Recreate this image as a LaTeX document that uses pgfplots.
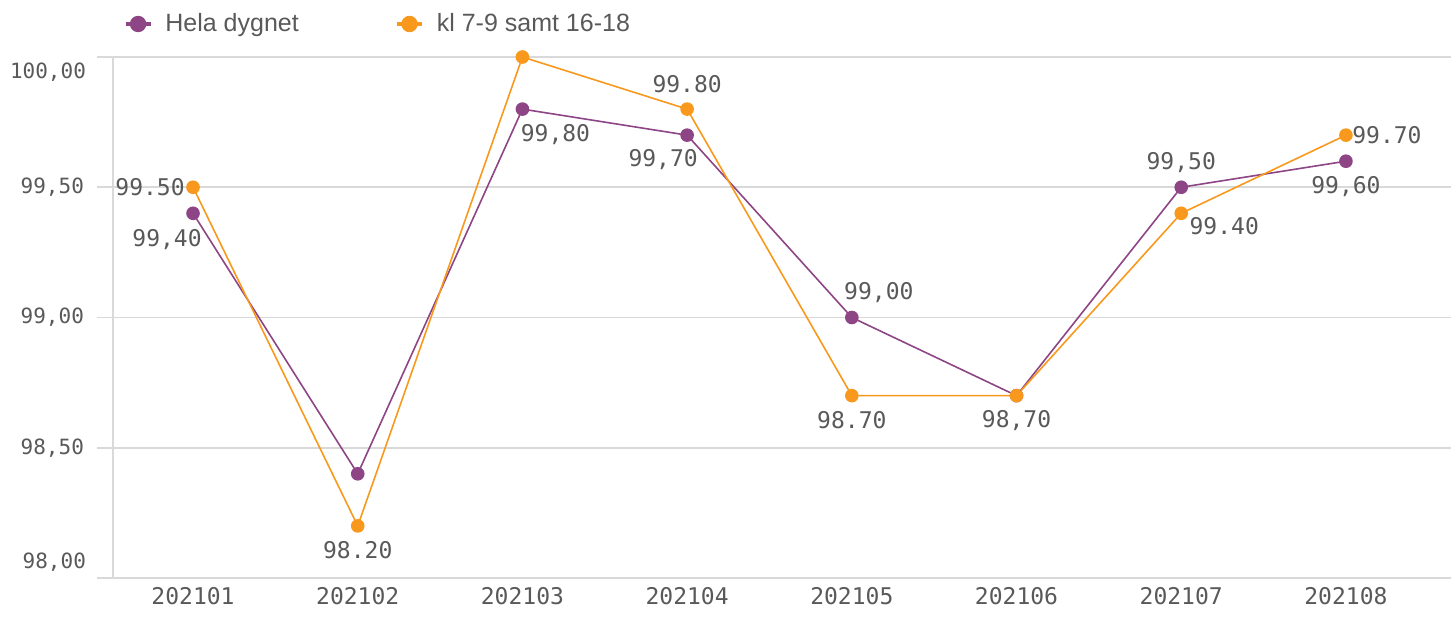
\documentclass[border=0pt]{standalone}
\usepackage{pgfplots}
\pgfplotsset{compat=1.18}
\usepackage{fontspec}
\setmainfont{Liberation Sans}
\setmonofont{DejaVu Sans Mono}
\definecolor{cpurple}{HTML}{8E4585}
\definecolor{corange}{HTML}{F8991D}
\definecolor{ctext}{HTML}{595959}
\definecolor{cgrid}{HTML}{D9D9D9}
\begin{document}
\begin{tikzpicture}
\begin{axis}[
  scale only axis,
  width=669pt, height=260.5pt,
  xmin=-0.486, xmax=7.638,
  ymin=98, ymax=100,
  clip=false,
  axis x line*=bottom, axis y line*=left,
  axis line style={draw=cgrid, line width=1pt},
  xtick={0,...,7},
  xticklabels={202101,202102,202103,202104,202105,202106,202107,202108},
  x tick style={draw=none},
  xticklabel style={font=\fontsize{11.5}{13}\ttfamily, text=ctext, yshift=7pt},
  ytick={98,98.5,99,99.5,100},
  yticklabels={{},{98,50},{99,00},{99,50},{}},
  y tick style={draw=cgrid, line width=0.8pt},
  major tick length=8pt,
  tick align=outside,
  yticklabel style={font=\fontsize{10.5}{12}\ttfamily, text=ctext, xshift=-3pt},
  ymajorgrids,
  grid style={draw=cgrid, line width=0.8pt},
  legend columns=2,
  legend style={at={(0,1)}, anchor=west, xshift=2pt, yshift=16.5pt, draw=none, fill=none,
    font=\fontsize{12.5}{14}\selectfont, text=ctext,
    /tikz/every even column/.style={column sep=46pt}},
]
\addplot[cpurple, line width=0.8pt, mark=*, mark size=3pt, mark options={fill=cpurple, draw=cpurple},
  legend image code/.code={\draw[cpurple, line width=2.2pt] (0pt,0pt)--(12.5pt,0pt); \fill[cpurple] (6.25pt,0pt) circle (3.7pt); \path (17.5pt,0pt);}]
  coordinates {(0,99.4) (1,98.4) (2,99.8) (3,99.7) (4,99.0) (5,98.7) (6,99.5) (7,99.6)};
\addlegendentry{Hela dygnet}
\addplot[corange, line width=0.8pt, mark=*, mark size=3pt, mark options={fill=corange, draw=corange},
  legend image code/.code={\draw[corange, line width=2.2pt] (0pt,0pt)--(12.5pt,0pt); \fill[corange] (6.25pt,0pt) circle (3.7pt); \path (17.5pt,0pt);}]
  coordinates {(0,99.5) (1,98.2) (2,100.0) (3,99.8) (4,98.7) (5,98.7) (6,99.4) (7,99.7)};
\addlegendentry{kl 7-9 samt 16-18}
% y end labels
\node[font=\fontsize{10.5}{12}\ttfamily, text=ctext, anchor=east] at ([xshift=-10pt,yshift=-7.5pt]rel axis cs:0,1) {100,00};
\node[font=\fontsize{10.5}{12}\ttfamily, text=ctext, anchor=east] at ([xshift=-10pt,yshift=8pt]rel axis cs:0,0) {98,00};
% data labels
\begin{scope}[every node/.style={font=\fontsize{11.5}{13}\ttfamily, text=ctext}]
\node at ([xshift=-13pt,yshift=-13pt]axis cs:0,99.4) {99,40};
\node at ([xshift=16.5pt,yshift=-12.5pt]axis cs:2,99.8) {99,80};
\node at ([xshift=-12pt,yshift=-12pt]axis cs:3,99.7) {99,70};
\node at ([xshift=13.5pt,yshift=12.5pt]axis cs:4,99.0) {99,00};
\node at ([yshift=-12.5pt]axis cs:5,98.7) {98,70};
\node at ([yshift=12.5pt]axis cs:6,99.5) {99,50};
\node at ([yshift=-12.5pt]axis cs:7,99.6) {99,60};
\node at ([xshift=-21.5pt]axis cs:0,99.5) {99.50};
\node at ([yshift=-12pt]axis cs:1,98.2) {98.20};
\node at ([yshift=12.5pt]axis cs:3,99.8) {99.80};
\node at ([yshift=-12pt]axis cs:4,98.7) {98.70};
\node at ([xshift=21.5pt,yshift=-6.5pt]axis cs:6,99.4) {99.40};
\node at ([xshift=20.5pt]axis cs:7,99.7) {99.70};
\end{scope}
\end{axis}
\pgfresetboundingbox
\useasboundingbox (-56.5pt,-19pt) rectangle (669pt,289pt);
\end{tikzpicture}
\end{document}
